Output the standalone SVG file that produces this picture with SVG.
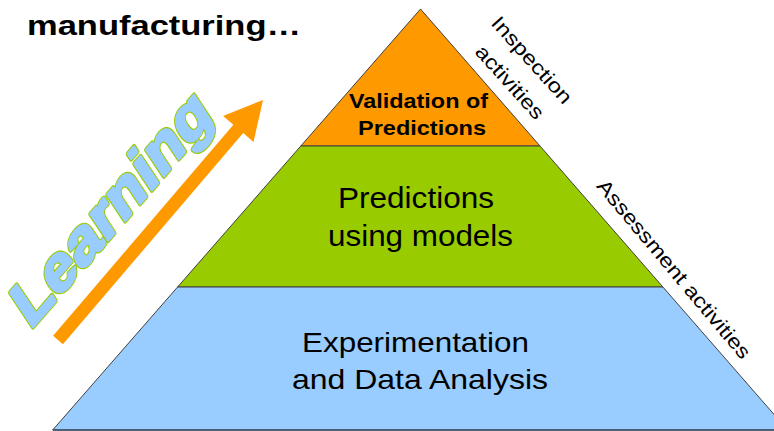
<svg xmlns="http://www.w3.org/2000/svg" width="774" height="431" viewBox="0 0 774 431">
  <style>
    .layer { stroke: #404040; stroke-width: 1; stroke-linejoin: miter; }
    .lbl { font-family: "Liberation Sans", Arial, sans-serif; fill: #000; }
    .b { font-weight: bold; }
    .side { font-family: "Liberation Sans", Arial, sans-serif; fill: #000; font-size: 20px; }
    .learn { font-family: "Liberation Sans", Arial, sans-serif; font-weight: bold; font-size: 41px; }
    .learn-outline { fill: #99cc00; stroke: #99cc00; stroke-width: 3.2; stroke-linejoin: round; }
    .learn-fill { fill: #99ccff; stroke: #99ccff; stroke-width: 1.8; stroke-linejoin: round; }
  </style>
  <defs>
    <text id="learning-word" class="learn" x="0" y="0">Learning</text>
  </defs>
  <rect width="774" height="431" fill="#ffffff"/>

  <g id="title">
    <text class="lbl b" x="27" y="35" font-size="28" textLength="274" lengthAdjust="spacingAndGlyphs">manufacturing…</text>
  </g>

  <g id="layer-validation">
    <polygon class="layer" fill="#ff9900" points="420.5,9 540,146 300.8,146"/>
    <text class="lbl b" font-size="21" text-anchor="middle" x="418.5" y="108" textLength="139" lengthAdjust="spacingAndGlyphs">Validation of</text>
    <text class="lbl b" font-size="21" text-anchor="middle" x="422" y="135" textLength="128" lengthAdjust="spacingAndGlyphs">Predictions</text>
  </g>

  <g id="layer-predictions">
    <polygon class="layer" fill="#99cc00" points="300.8,146 540,146 662.9,287 177.6,287"/>
    <text class="lbl" font-size="29" text-anchor="middle" x="416" y="208" textLength="156" lengthAdjust="spacingAndGlyphs">Predictions</text>
    <text class="lbl" font-size="29" text-anchor="middle" x="420.5" y="246" textLength="185" lengthAdjust="spacingAndGlyphs">using models</text>
  </g>

  <g id="layer-experimentation">
    <polygon class="layer" fill="#99ccff" points="177.6,287 662.9,287 787.6,430 52.7,430"/>
    <line x1="52.7" y1="430" x2="774" y2="430" stroke="#3a4f66" stroke-width="1.5"/>
    <text class="lbl" font-size="28" text-anchor="middle" x="415.5" y="352" textLength="227" lengthAdjust="spacingAndGlyphs">Experimentation</text>
    <text class="lbl" font-size="28" text-anchor="middle" x="420" y="389" textLength="256" lengthAdjust="spacingAndGlyphs">and Data Analysis</text>
  </g>

  <g id="inspection-label">
    <text class="side" text-anchor="middle" transform="translate(532,60) rotate(48)" y="7" textLength="110" lengthAdjust="spacingAndGlyphs">Inspection</text>
    <text class="side" text-anchor="middle" transform="translate(510,82) rotate(48)" y="7" textLength="92" lengthAdjust="spacingAndGlyphs">activities</text>
  </g>

  <g id="assessment-label">
    <text class="side" font-size="21" text-anchor="middle" transform="translate(674,269) rotate(50)" y="7" textLength="227" lengthAdjust="spacingAndGlyphs">Assessment activities</text>
  </g>

  <g id="learning">
    <polygon fill="#ff9900" points="53.1,335.8 233.4,124.7 223.1,115.9 263,100 253.5,141.9 243.2,133.1 62.9,344.2"/>
    <g transform="matrix(1.064,-1.225,0.8136,1.222,30.2,330.3)">
      <use href="#learning-word" class="learn-outline"/>
      <use href="#learning-word" class="learn-fill"/>
    </g>
  </g>
</svg>
